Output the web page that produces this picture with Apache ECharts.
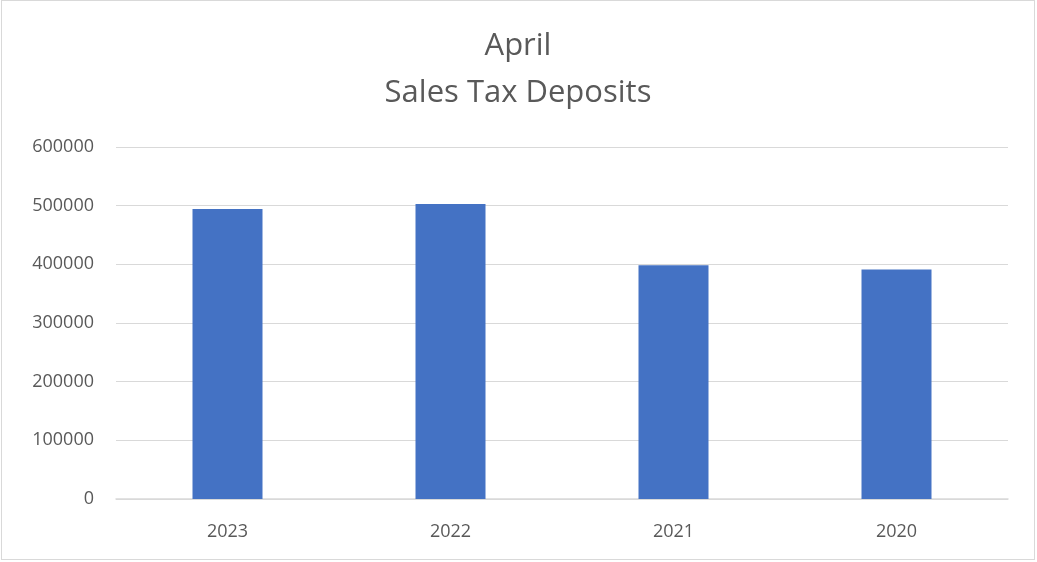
<!DOCTYPE html>
<html>
<head>
<meta charset="utf-8">
<script src="https://cdn.jsdelivr.net/npm/echarts@6/dist/echarts.min.js"></script>
<style>
  html, body { margin: 0; padding: 0; background: #fff; }
  #chart {
    position: absolute;
    left: 1px;
    top: 0;
    width: 1034px;
    height: 560px;
    border: 1px solid #d9d9d9;
    box-sizing: border-box;
  }
</style>
</head>
<body>
<div id="chart"></div>
<script>
// chart data
var years = ['2023', '2022', '2021', '2020']
var deposits = [494400, 502900, 398300, 391000]
var yTicks = [0, 100000, 200000, 300000, 400000, 500000, 600000]

var myChart = echarts.init(document.getElementById('chart'))
var option = {
  animation: false,
  title: {
    text: 'April\nSales Tax Deposits',
    left: 'center',
    top: 17,
    textStyle: {
      color: '#595959',
      fontFamily: 'Open Sans',
      fontSize: 31,
      fontWeight: 'normal',
      lineHeight: 47
    }
  },
  grid: {
    left: 114,
    right: 26,
    top: 146,
    bottom: 60
  },
  xAxis: {
    type: 'category',
    data: years,
    axisTick: { show: false },
    axisLine: { lineStyle: { color: '#d9d9d9', width: 1.5 } },
    axisLabel: {
      color: '#595959',
      fontFamily: 'Open Sans',
      fontSize: 18,
      margin: 24
    }
  },
  yAxis: {
    type: 'value',
    min: yTicks[0],
    max: yTicks[yTicks.length - 1],
    interval: 100000,
    axisLine: { show: false },
    axisTick: { show: false },
    splitLine: { lineStyle: { color: '#d9d9d9', width: 1.2 } },
    axisLabel: {
      color: '#595959',
      fontFamily: 'Open Sans',
      fontSize: 18,
      margin: 22,
      formatter: function (v) { return String(v) }
    }
  },
  series: [
    {
      type: 'bar',
      data: deposits,
      barWidth: 70,
      itemStyle: { color: '#4472c4' }
    }
  ]
}
myChart.setOption(option)
</script>
</body>
</html>
